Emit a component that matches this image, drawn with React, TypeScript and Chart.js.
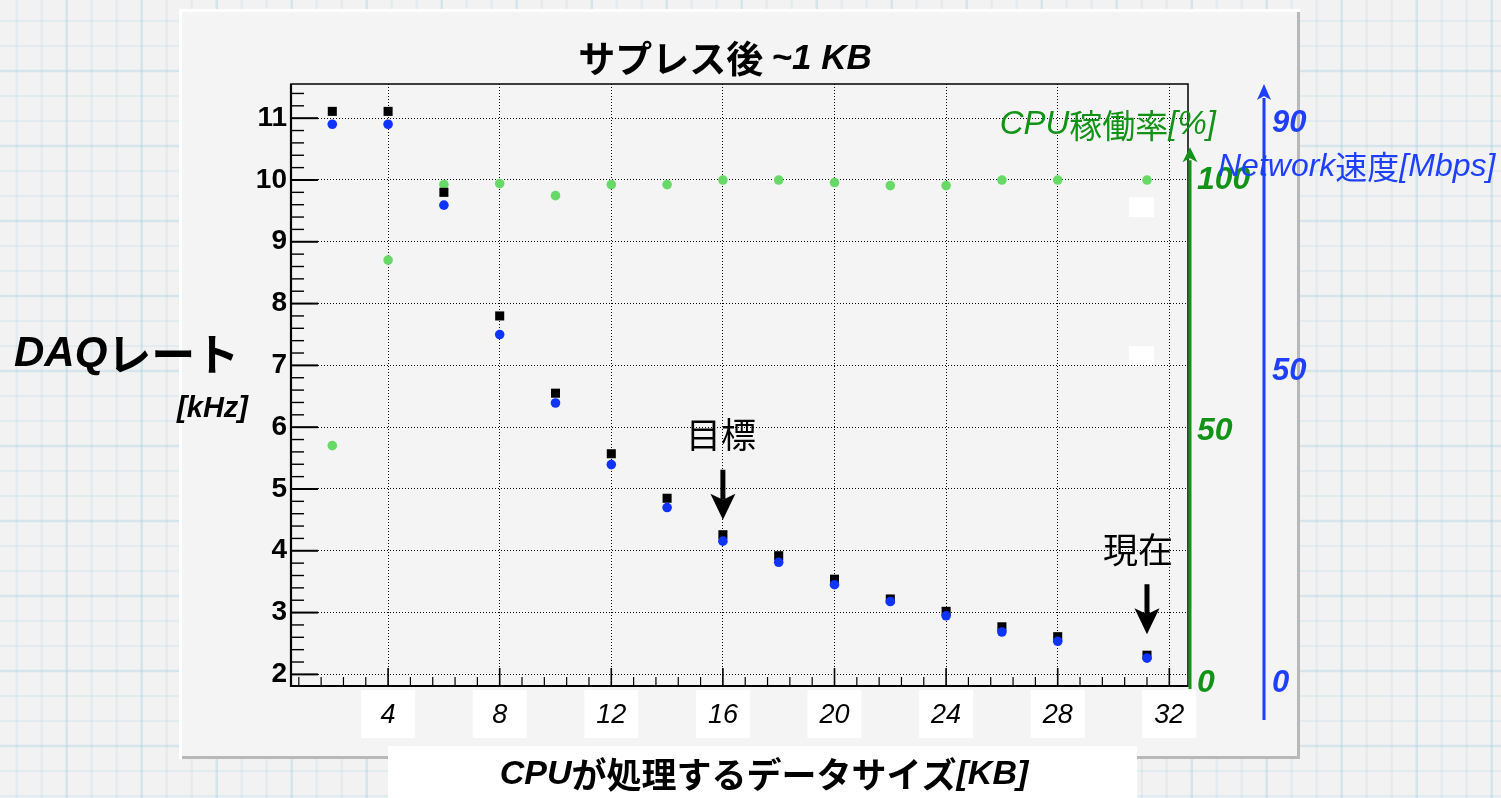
import React, { useEffect, useRef } from 'react';
import { Chart, registerables } from 'chart.js';

Chart.register(...registerables);

// Size of data handled by the CPU [KB]
const dataSizeKB = [2, 4, 6, 8, 10, 12, 14, 16, 18, 20, 22, 24, 26, 28, 31.2];
// DAQ rate [kHz]
const daqRateKHz = [11.11, 11.11, 9.8, 7.8, 6.55, 5.57, 4.85, 4.26, 3.92, 3.54, 3.22, 3.02, 2.77, 2.61, 2.31];
// Network throughput [Mbps]
const networkMbps = [89.8, 89.8, 76.8, 56.0, 45.0, 35.1, 28.2, 22.8, 19.4, 15.8, 13.1, 10.8, 8.2, 6.7, 4.0];
// CPU utilisation [%]
const cpuPercent = [47.2, 84.1, 99.1, 99.3, 96.9, 99.1, 99.1, 100, 100, 99.5, 98.9, 98.9, 100, 100, 100];

const xTickValues = [4, 8, 12, 16, 20, 24, 28, 32];
const rateTickValues = [2, 3, 4, 5, 6, 7, 8, 9, 10, 11];
const cpuTickValues = [0, 50, 100];
const netTickValues = [0, 50, 90];

// Arrow notes: label, x position of the pointed point
const noteLabels = ['目標', '現在'];
const noteSizes = [16, 31.2];

const W = 1501;
const H = 798;

const BLUE_PT = '#1034ff';
const GREEN_PT = '#66d966';
const GREEN_AXIS = '#139218';
const BLUE_AXIS = '#1f3fff';

const LATIN = '"Liberation Sans", Arial, Helvetica';
const CJK = '"Noto Sans CJK JP"';
const latin = (style: string, size: number) => `${style} ${size}px ${LATIN}, ${CJK}, sans-serif`;
const cjk = (weight: string, size: number) => `${weight} ${size}px ${CJK}, ${LATIN}, sans-serif`;

type Run = { t: string; font: string };

function drawRuns(
  ctx: CanvasRenderingContext2D,
  runs: Run[],
  x: number,
  y: number,
  align: 'left' | 'center' | 'right',
  color: string
) {
  ctx.save();
  ctx.fillStyle = color;
  ctx.textAlign = 'left';
  ctx.textBaseline = 'middle';
  const widths = runs.map((r) => {
    ctx.font = r.font;
    return ctx.measureText(r.t).width;
  });
  const total = widths.reduce((s, w) => s + w, 0);
  let cx = align === 'left' ? x : align === 'center' ? x - total / 2 : x - total;
  runs.forEach((r, i) => {
    ctx.font = r.font;
    ctx.fillText(r.t, cx, y);
    cx += widths[i];
  });
  ctx.restore();
}

function line(ctx: CanvasRenderingContext2D, x1: number, y1: number, x2: number, y2: number) {
  ctx.beginPath();
  ctx.moveTo(x1, y1);
  ctx.lineTo(x2, y2);
  ctx.stroke();
}

function drawPaper(ctx: CanvasRenderingContext2D, w: number, h: number) {
  ctx.fillStyle = '#f2f2f2';
  ctx.fillRect(0, 0, w, h);
  for (let i = 0, x = 16.7; x < w; i++, x += 25) {
    const heavy = i % 3 === 2;
    ctx.strokeStyle = heavy ? 'rgba(150,200,222,0.3)' : 'rgba(150,200,222,0.17)';
    ctx.lineWidth = heavy ? 2.5 : 2;
    line(ctx, x, 0, x, h);
  }
  for (let i = 0, y = 21; y < h; i++, y += 25) {
    const heavy = i % 3 === 2;
    ctx.strokeStyle = heavy ? 'rgba(150,200,222,0.3)' : 'rgba(150,200,222,0.17)';
    ctx.lineWidth = heavy ? 2.5 : 2;
    line(ctx, 0, y, w, y);
  }
}

function arrowUp(ctx: CanvasRenderingContext2D, x: number, yBottom: number, yTip: number, color: string, headLen: number, headHalf: number) {
  ctx.save();
  ctx.strokeStyle = color;
  ctx.fillStyle = color;
  ctx.lineWidth = 3;
  line(ctx, x, yBottom, x, yTip + headLen - 2);
  ctx.beginPath();
  ctx.moveTo(x, yTip);
  ctx.lineTo(x - headHalf, yTip + headLen);
  ctx.lineTo(x, yTip + headLen - 4);
  ctx.lineTo(x + headHalf, yTip + headLen);
  ctx.closePath();
  ctx.fill();
  ctx.restore();
}

function arrowDown(ctx: CanvasRenderingContext2D, x: number, yTop: number, yTip: number) {
  ctx.save();
  ctx.strokeStyle = '#000';
  ctx.fillStyle = '#000';
  ctx.lineWidth = 5;
  line(ctx, x, yTop, x, yTip - 20);
  ctx.beginPath();
  ctx.moveTo(x, yTip);
  ctx.lineTo(x - 12.5, yTip - 26);
  ctx.lineTo(x, yTip - 20);
  ctx.lineTo(x + 12.5, yTip - 26);
  ctx.closePath();
  ctx.fill();
  ctx.restore();
}

const decorPlugin = {
  id: 'decor',
  beforeDraw(chart: any) {
    const { ctx, width, height } = chart;
    const xs = chart.scales.x;
    const ys = chart.scales.y;
    ctx.save();
    drawPaper(ctx, width, height);
    // canvas panel
    ctx.fillStyle = '#ffffff';
    ctx.fillRect(179, 9, 1121, 750);
    ctx.fillStyle = '#b8b8b8';
    ctx.fillRect(1297, 12, 3, 747);
    ctx.fillRect(182, 756, 1118, 3);
    ctx.fillStyle = '#f4f4f4';
    ctx.fillRect(182, 12, 1115, 744);
    // white patches behind the x tick labels
    ctx.fillStyle = '#ffffff';
    xTickValues.forEach((v) => {
      const px = xs.getPixelForValue(v);
      ctx.fillRect(px - 27, xs.top + 4, 54, 48);
    });
    // small white patches in the plot
    [9.56, 7.15].forEach((v) => {
      const px = xs.getPixelForValue(31.0);
      const py = ys.getPixelForValue(v);
      ctx.fillRect(px - 12.5, py - 10, 25, 20);
    });
    ctx.restore();
  },
  afterDraw(chart: any) {
    const { ctx, chartArea: a } = chart;
    const xs = chart.scales.x;
    const ys = chart.scales.y;
    const cpu = chart.scales.yCpu;
    const net = chart.scales.yNet;
    ctx.save();

    // frame
    ctx.strokeStyle = '#000';
    ctx.lineWidth = 1.5;
    ctx.strokeRect(a.left, a.top, a.right - a.left, a.bottom - a.top);
    ctx.lineWidth = 2.2;
    ctx.beginPath();
    ctx.moveTo(a.left, a.top);
    ctx.lineTo(a.left, a.bottom);
    ctx.lineTo(a.right, a.bottom);
    ctx.stroke();

    // inward ticks on the left axis
    for (let i = Math.ceil(ys.min * 5); i <= Math.floor(ys.max * 5); i++) {
      const major = i % 5 === 0;
      const py = ys.getPixelForValue(i / 5);
      ctx.lineWidth = major ? 2 : 1.4;
      line(ctx, a.left, py, a.left + (major ? 27 : 13), py);
    }
    // inward ticks on the bottom axis
    for (let i = Math.ceil(xs.min / 0.8); i * 0.8 <= xs.max; i++) {
      const major = i % 5 === 0;
      const px = xs.getPixelForValue(i * 0.8);
      ctx.lineWidth = major ? 1.6 : 1.2;
      line(ctx, px, a.bottom, px, a.bottom - (major ? 18 : 9));
    }

    // right-hand axes with arrow heads
    arrowUp(ctx, cpu.left + 2, a.bottom + 3, cpu.getPixelForValue(106.5), GREEN_AXIS, 15, 7.5);
    arrowUp(ctx, net.left, a.bottom + 34, net.top, BLUE_AXIS, 16, 7);

    // chart title
    drawRuns(ctx, [
      { t: 'サプレス後 ', font: cjk('bold', 37) },
      { t: '~1 KB', font: latin('italic bold', 35) },
    ], 725, 59, 'center', '#000');

    // right axis titles
    drawRuns(ctx, [
      { t: 'CPU', font: latin('italic', 33) },
      { t: '稼働率', font: cjk('400', 33) },
      { t: '[%]', font: latin('italic', 33) },
    ], cpu.left + 28, 125, 'right', GREEN_AXIS);
    drawRuns(ctx, [
      { t: 'Network', font: latin('italic', 32) },
      { t: '速度', font: cjk('400', 32) },
      { t: '[Mbps]', font: latin('italic', 32) },
    ], cpu.left + 30, 167, 'left', BLUE_AXIS);

    // left axis title
    drawRuns(ctx, [
      { t: 'DAQ', font: latin('italic bold', 42) },
      { t: 'レート', font: cjk('bold', 44) },
    ], 14, 354, 'left', '#000');
    drawRuns(ctx, [{ t: '[kHz]', font: latin('italic bold', 29) }], 248, 409, 'right', '#000');

    // bottom axis title
    ctx.fillStyle = '#ffffff';
    ctx.fillRect(388, 746, 749, 52);
    drawRuns(ctx, [
      { t: 'CPU', font: latin('italic bold', 34) },
      { t: 'が処理するデータサイズ', font: cjk('bold', 35) },
      { t: '[KB]', font: latin('italic bold', 34) },
    ], 764, 775, 'center', '#000');

    // arrow notes
    noteLabels.forEach((label, k) => {
      const idx = dataSizeKB.indexOf(noteSizes[k]);
      const px = xs.getPixelForValue(dataSizeKB[idx]);
      const tip = ys.getPixelForValue(daqRateKHz[idx]) - (k === 0 ? 15 : 21);
      arrowDown(ctx, px, tip - 50, tip);
      drawRuns(ctx, [{ t: label, font: cjk('400', 35) }], px - (k === 0 ? 2 : 9), tip - 85, 'center', '#000');
    });

    ctx.restore();
  },
};

const toXY = (vals: number[]) => dataSizeKB.map((x, i) => ({ x, y: vals[i] }));
const setTicks = (vals: number[]) => (scale: any) => {
  scale.ticks = vals.map((value) => ({ value }));
};

export default function App() {
  const ref = useRef<HTMLCanvasElement>(null);

  useEffect(() => {
    document.body.style.margin = '0';
    Chart.defaults.font.family = `${LATIN}, ${CJK}, sans-serif`;
    const chart = new Chart(ref.current!, {
      type: 'scatter',
      data: {
        datasets: [
          {
            label: 'Network速度[Mbps]',
            data: toXY(networkMbps),
            yAxisID: 'yNet',
            pointStyle: 'circle',
            pointRadius: 4.8,
            pointHoverRadius: 4.8,
            backgroundColor: BLUE_PT,
            pointBackgroundColor: BLUE_PT,
            pointBorderWidth: 0,
            borderWidth: 0,
          },
          {
            label: 'DAQレート[kHz]',
            data: toXY(daqRateKHz),
            yAxisID: 'y',
            pointStyle: 'rect',
            pointRadius: 6.4,
            pointHoverRadius: 6.4,
            backgroundColor: '#000',
            pointBackgroundColor: '#000',
            pointBorderWidth: 0,
            borderWidth: 0,
          },
          {
            label: 'CPU稼働率[%]',
            data: toXY(cpuPercent),
            yAxisID: 'yCpu',
            pointStyle: 'circle',
            pointRadius: 4.8,
            pointHoverRadius: 4.8,
            backgroundColor: GREEN_PT,
            pointBackgroundColor: GREEN_PT,
            pointBorderWidth: 0,
            borderWidth: 0,
          },
        ],
      },
      options: {
        responsive: false,
        animation: false,
        devicePixelRatio: 1,
        events: [],
        layout: { padding: { top: 84, left: 0, right: 0, bottom: 0 } },
        plugins: {
          legend: { display: false },
          tooltip: { enabled: false },
          title: { display: false },
        },
        scales: {
          x: {
            type: 'linear',
            position: 'bottom',
            min: 0.52,
            max: 32.67,
            afterBuildTicks: setTicks(xTickValues),
            afterFit: (s: any) => {
              s.height = 112;
            },
            ticks: {
              autoSkip: false,
              maxRotation: 0,
              minRotation: 0,
              padding: 13,
              color: '#000',
              font: { size: 27, style: 'italic', weight: 'normal' },
            },
            grid: { color: '#000', lineWidth: 1, drawTicks: false },
            border: { display: false, dash: [1, 2] },
          },
          y: {
            type: 'linear',
            position: 'left',
            min: 1.812,
            max: 11.553,
            afterBuildTicks: setTicks(rateTickValues),
            afterFit: (s: any) => {
              s.width = 291;
            },
            ticks: {
              padding: 4,
              color: '#000',
              font: { size: 28, weight: 'bold' },
            },
            grid: { color: '#000', lineWidth: 1, drawTicks: false },
            border: { display: false, dash: [1, 2] },
          },
          yCpu: {
            type: 'linear',
            position: 'right',
            weight: 0,
            min: -0.6,
            max: 119.1,
            afterBuildTicks: setTicks(cpuTickValues),
            afterFit: (s: any) => {
              s.width = 76;
            },
            ticks: {
              padding: 9,
              color: GREEN_AXIS,
              font: { size: 32, style: 'italic', weight: 'bold' },
            },
            grid: { display: false, drawTicks: false },
            border: { display: false },
          },
          yNet: {
            type: 'linear',
            position: 'right',
            weight: 1,
            min: -0.48,
            max: 96.27,
            afterBuildTicks: setTicks(netTickValues),
            afterFit: (s: any) => {
              s.width = 237;
            },
            ticks: {
              padding: 8,
              color: BLUE_AXIS,
              font: { size: 31, style: 'italic', weight: 'bold' },
            },
            grid: { display: false, drawTicks: false },
            border: { display: false },
          },
        },
      },
      plugins: [decorPlugin],
    } as any);
    return () => chart.destroy();
  }, []);

  return (
    <div style={{ position: 'fixed', left: 0, top: 0, width: W, height: H, overflow: 'hidden' }}>
      <canvas ref={ref} width={W} height={H} style={{ display: 'block', width: W, height: H }} />
    </div>
  );
}
